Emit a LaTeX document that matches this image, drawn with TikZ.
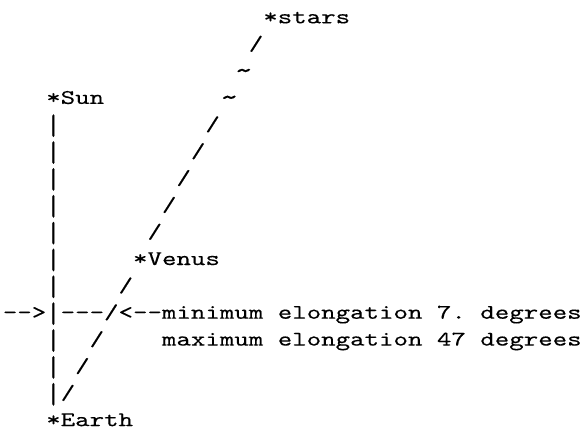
\documentclass[tikz,border=0pt]{standalone}
\usepackage{fontspec}
\newfontfamily\asciifont{lmmono10-regular.otf}[FakeStretch=1.3256,FakeBold=0.2,Ligatures=TeXOff]
\newcommand\tallbar{\raisebox{-1.8pt}{\scalebox{1}[1.4]{|}}}
\newcommand\wave{\raisebox{-0.8pt}{\scalebox{1.3}{\textasciitilde}}}
\begin{document}
\begin{tikzpicture}[
  x=6.73pt, y=-12.49pt,
  chr/.style={font=\asciifont\fontsize{9.67pt}{12pt}\selectfont, anchor=base west, inner sep=0pt},
]
  \useasboundingbox (-0.166,-0.868) rectangle (40.054,15.11);

  % bodies
  \node[chr] (stars) at (18,0) {*stars};
  \node[chr] (sun) at (3,3) {*Sun};
  \node[chr] (venus) at (9,9) {*Venus};
  \node[chr] (earth) at (3,15) {*Earth};

  % line of sight from earth past venus to the stars
  \foreach \r in {1,4,5,6,7,8,10,11,12,13,14}
    \node[chr] (sl\r) at (18-\r,\r) {/};
  \node[chr] (ti2) at (16,2) {\wave};
  \node[chr] (ti3) at (15,3) {\wave};

  % earth-sun line
  \foreach \r in {4,...,14}
    \node[chr] (bar\r) at (3,\r) {\tallbar};

  % elongation
  \node[chr] (arrin) at (0,11) {-->};
  \node[chr] (dash) at (4,11) {---};
  \node[chr] (arrout) at (8,11) {<--};
  \node[chr] (mina) at (11,11) {minimum};
  \node[chr] (minb) at (19,11) {elongation};
  \node[chr] (minc) at (30,11) {7.};
  \node[chr] (mind) at (33,11) {degrees};
  \node[chr] (maxa) at (11,12) {maximum};
  \node[chr] (maxb) at (19,12) {elongation};
  \node[chr] (maxc) at (30,12) {47};
  \node[chr] (maxd) at (33,12) {degrees};
\end{tikzpicture}
\end{document}
